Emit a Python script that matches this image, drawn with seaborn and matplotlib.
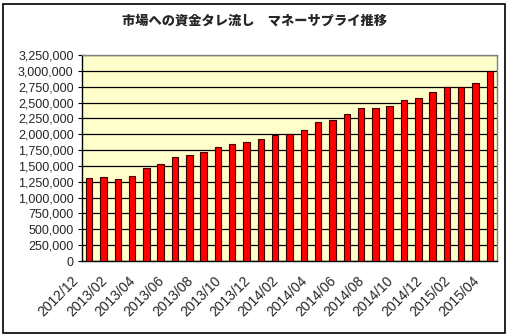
import matplotlib
matplotlib.use("Agg")
import matplotlib.pyplot as plt
import matplotlib.transforms as mtransforms
import seaborn as sns
import pandas as pd
import numpy as np
from matplotlib.ticker import FuncFormatter, FixedLocator
from matplotlib.patches import Rectangle

months = ["2012/12", "2013/01", "2013/02", "2013/03", "2013/04", "2013/05", "2013/06",
          "2013/07", "2013/08", "2013/09", "2013/10", "2013/11", "2013/12", "2014/01",
          "2014/02", "2014/03", "2014/04", "2014/05", "2014/06", "2014/07", "2014/08",
          "2014/09", "2014/10", "2014/11", "2014/12", "2015/01", "2015/02", "2015/03",
          "2015/04"]
money_supply = [1315000, 1320000, 1290000, 1336000, 1472000, 1524000, 1634000,
                1680000, 1712000, 1806000, 1853000, 1884000, 1931000, 1995000,
                2000000, 2072000, 2197000, 2228000, 2323000, 2416000, 2416000,
                2448000, 2547000, 2573000, 2667000, 2745000, 2745000, 2813000,
                3000000]
y_ticks = list(range(0, 3250001, 250000))
title = "市場への資金タレ流し　マネーサプライ推移"

sns.set_theme(style="white")
plt.rcParams['font.family'] = ['Liberation Sans', 'Noto Sans CJK JP', 'DejaVu Sans']

df = pd.DataFrame({"month": months, "value": money_supply})

fig = plt.figure(figsize=(5.09, 3.36), dpi=100)
ax = fig.add_axes([82/509, 1 - 261/336, (497-82)/509, (261-55)/336])
ax.set_facecolor("#FFFFCC")

sns.barplot(data=df, x="month", y="value", color="#FF0000", width=0.45,
            edgecolor="#3a0000", linewidth=0.8, saturation=1, ax=ax, zorder=3)

ax.set_ylim(0, 3250000)
ax.set_xlim(-0.5, len(months) - 0.5)
ax.yaxis.set_major_locator(FixedLocator(y_ticks))
ax.yaxis.set_major_formatter(FuncFormatter(lambda v, p: f"{int(v):,}"))
ax.grid(axis="y", color="black", linewidth=0.9, zorder=1)
ax.set_axisbelow(True)

ax.set_xticks(np.arange(-0.5, len(months), 1), minor=True)
ax.tick_params(axis="x", which="major", length=0, pad=4)
ax.tick_params(axis="x", which="minor", length=3, direction="in", color="black", width=0.8)
ax.tick_params(axis="y", length=3, direction="out", color="black", width=0.8,
               labelsize=9, pad=3, left=True)
ax.set_xticks(range(0, len(months), 2))
ax.set_xticklabels([months[i] for i in range(0, len(months), 2)], rotation=45,
                   ha="right", va="center", rotation_mode="anchor", fontsize=10)
offset = mtransforms.ScaledTranslation(-13/100, -12/100, fig.dpi_scale_trans)
for lbl in ax.get_xticklabels():
    lbl.set_transform(lbl.get_transform() + offset)
ax.set_xlabel("")
ax.set_ylabel("")

for side in ["top", "right"]:
    ax.spines[side].set_color("#808080")
    ax.spines[side].set_linewidth(1)
for side in ["left", "bottom"]:
    ax.spines[side].set_color("black")
    ax.spines[side].set_linewidth(1)

fig.text(254/509, 1 - 21/336, title, ha="center", va="center", fontsize=9.5,
         fontweight="black", family=['Noto Sans CJK JP', 'DejaVu Sans'])

fig.patches.append(Rectangle((3/509, 3/336), 502/509, 329/336, transform=fig.transFigure,
                             fill=False, edgecolor="black", linewidth=1.2))

fig.savefig("out.png", dpi=100, facecolor="white")
